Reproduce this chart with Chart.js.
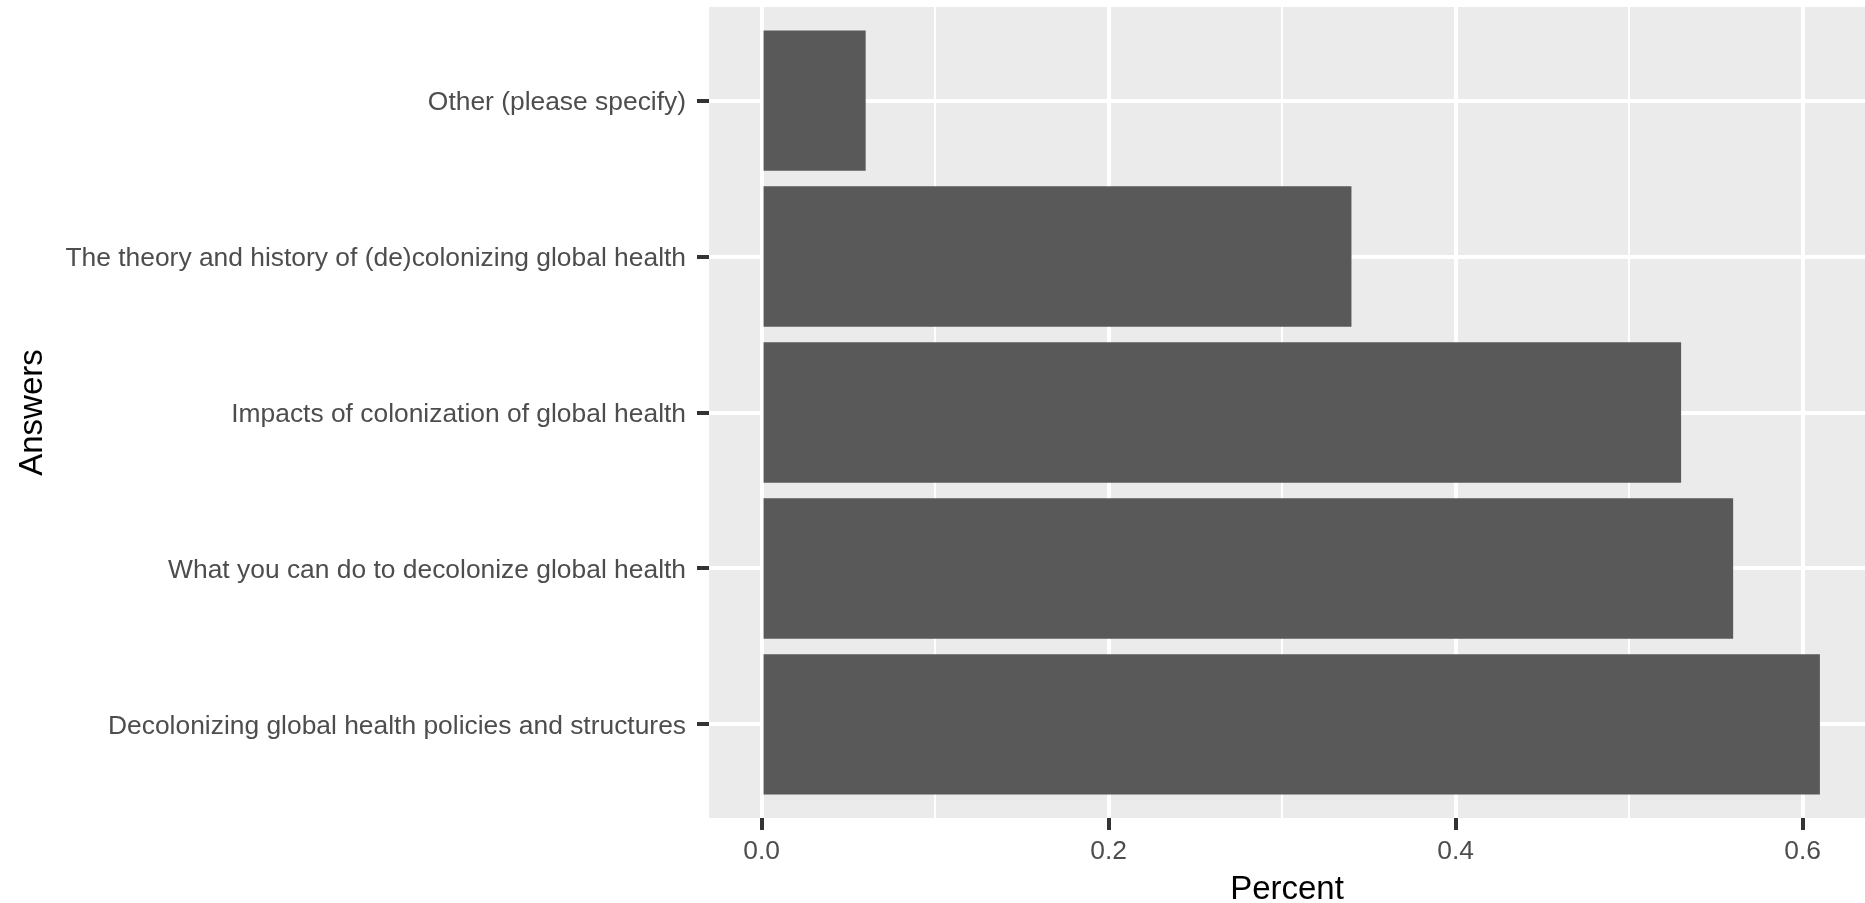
<!DOCTYPE html>
<html>
<head>
<meta charset="utf-8">
<script src="https://cdn.jsdelivr.net/npm/chart.js@4.4.0/dist/chart.umd.min.js"></script>
<style>
  body { margin: 0; background: #fff; }
  #chart { display: block; }
</style>
</head>
<body>
<canvas id="chart" width="1865" height="903"></canvas>
<script>
// categories top to bottom, as in the picture
const answers = [
    'Other (please specify)',
    'The theory and history of (de)colonizing global health',
    'Impacts of colonization of global health',
    'What you can do to decolonize global health',
    'Decolonizing global health policies and structures'
];
const percent = [0.06, 0.34, 0.53, 0.56, 0.61];

const xMin = -0.0303;
const xMax = 0.636;

const panelBg = {
    id: 'panelBg',
    beforeDraw(chart) {
        const a = chart.chartArea;
        const ctx = chart.ctx;
        ctx.save();
        ctx.fillStyle = '#EBEBEB';
        ctx.fillRect(a.left, a.top, a.right - a.left, a.bottom - a.top);
        ctx.restore();
    }
};

const isMajor = (v) => Math.round(v * 10) % 2 === 0;
const fontFam = 'Liberation Sans, Arial, sans-serif';

new Chart(document.getElementById('chart'), {
    type: 'bar',
    data: {
        datasets: [{
            data: percent.map((v, i) => ({ x: v, y: i })),
            backgroundColor: '#595959',
            borderWidth: 0,
            categoryPercentage: 0.9,
            barPercentage: 1.0
        }]
    },
    options: {
        indexAxis: 'y',
        responsive: false,
        animation: false,
        layout: { padding: { top: 7, right: 0, left: 0, bottom: 0 } },
        plugins: {
            legend: { display: false },
            tooltip: { enabled: false }
        },
        scales: {
            x: {
                type: 'linear',
                min: xMin,
                max: xMax,
                afterFit: (s) => {
                    s.height = 85;
                    s.paddingLeft = 0;
                    s.paddingRight = 0;
                },
                border: { display: false },
                grid: {
                    color: '#FFFFFF',
                    lineWidth: (c) => isMajor(c.tick.value) ? 4 : 2,
                    tickColor: (c) => isMajor(c.tick.value) ? '#333333' : 'rgba(0,0,0,0)',
                    tickWidth: 4,
                    tickLength: 12
                },
                ticks: {
                    stepSize: 0.1,
                    includeBounds: false,
                    autoSkip: false,
                    maxRotation: 0,
                    padding: 6,
                    color: '#4D4D4D',
                    font: { family: fontFam, size: 26.4 },
                    callback: (v) => isMajor(v) ? (Math.round(v * 10) / 10).toFixed(1) : ''
                },
                title: {
                    display: true,
                    text: 'Percent',
                    color: '#000000',
                    padding: 0,
                    font: { family: fontFam, size: 33, lineHeight: 0.8 }
                }
            },
            y: {
                type: 'linear',
                reverse: true,
                offset: false,
                min: -0.6,
                max: answers.length - 1 + 0.6,
                afterFit: (s) => {
                    s.width = 709;
                    s.paddingTop = 0;
                    s.paddingBottom = 0;
                },
                border: { display: false },
                grid: {
                    offset: false,
                    color: '#FFFFFF',
                    lineWidth: 4,
                    tickColor: '#333333',
                    tickWidth: 4,
                    tickLength: 12
                },
                ticks: {
                    stepSize: 1,
                    includeBounds: false,
                    autoSkip: false,
                    padding: 11,
                    labelOffset: 2,
                    color: '#4D4D4D',
                    font: { family: fontFam, size: 26.4 },
                    callback: (v) => answers[v] !== undefined ? answers[v] : ''
                },
                title: {
                    display: true,
                    text: 'Answers',
                    color: '#000000',
                    padding: { top: 16, bottom: 0 },
                    font: { family: fontFam, size: 33, lineHeight: 1 }
                }
            }
        }
    },
    plugins: [panelBg]
});
</script>
</body>
</html>
